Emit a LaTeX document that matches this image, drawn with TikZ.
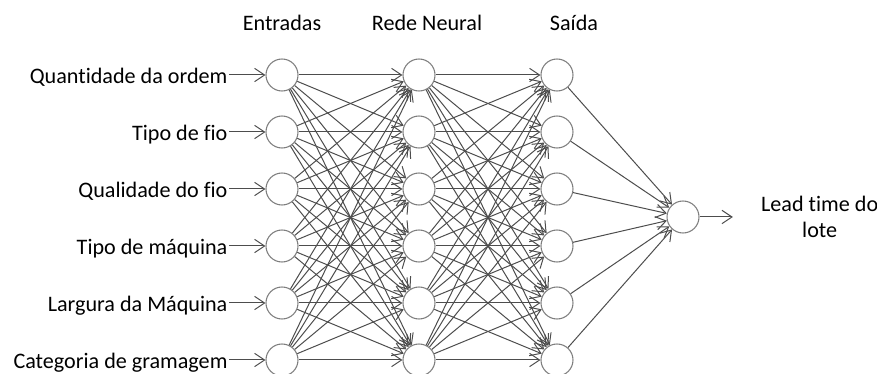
\documentclass[tikz,border=0pt]{standalone}
\usepackage{fontspec}
\setmainfont{Carlito}[Ligatures={NoCommon}]
\usetikzlibrary{arrows.meta,positioning}
\definecolor{edge}{HTML}{4D4D4D}
\definecolor{ring}{HTML}{7F7F7F}

\begin{document}
\begin{tikzpicture}[x=0.75pt,y=0.75pt,
  every node/.style={font=\fontsize{16.6}{19}\selectfont},
  neuron/.style={circle,draw=ring,line width=0.8pt,minimum size=24pt,inner sep=0pt},
  link/.style={draw=edge,line width=0.75pt,-{Straight Barb[length=7.5pt,width=10pt]}}]
  \useasboundingbox (0,0) rectangle (877,374);
  % three layers of six neurons
  \foreach \i in {1,...,6} {
    \node[neuron] (in\i) at (282,{356-57*\i}) {};
    \node[neuron] (h\i) at (419,{356-57*\i}) {};
    \node[neuron] (o\i) at (557,{356-57*\i}) {};
  }
  \node[neuron] (out) at (683,157) {};
  % layer titles
  \node[anchor=base] (tin) at (282,343) {Entradas};
  \node[anchor=base] (thid) at (427,343) {Rede Neural};
  \node[anchor=base] (tout) at (574,343) {Saída};
  % input variables
  \foreach \i/\t in {1/Quantidade da ordem,2/Tipo de fio,3/Qualidade do fio,
                     4/Tipo de máquina,5/Largura da Máquina,6/Categoria de gramagem\ } {
    \node[anchor=base east,inner sep=1pt] (lab\i) at (229,{347-57*\i}) {\t};
    \draw[link] (lab\i.east |- in\i) -- (in\i);
  }
  % fully connected layers
  \foreach \i in {1,...,6}
    \foreach \j in {1,...,6} {
      \draw[link] (in\i) -- (h\j);
      \draw[link] (h\i) -- (o\j);
    }
  \foreach \i in {1,...,6}
    \draw[link] (o\i) -- (out);
  \coordinate[right=25pt of out] (lt);
  \draw[link] (out) -- (lt);
  \node[right=21pt of lt,align=center,inner sep=0pt] (ltlab) {Lead time do\\lote};
\end{tikzpicture}
\end{document}
